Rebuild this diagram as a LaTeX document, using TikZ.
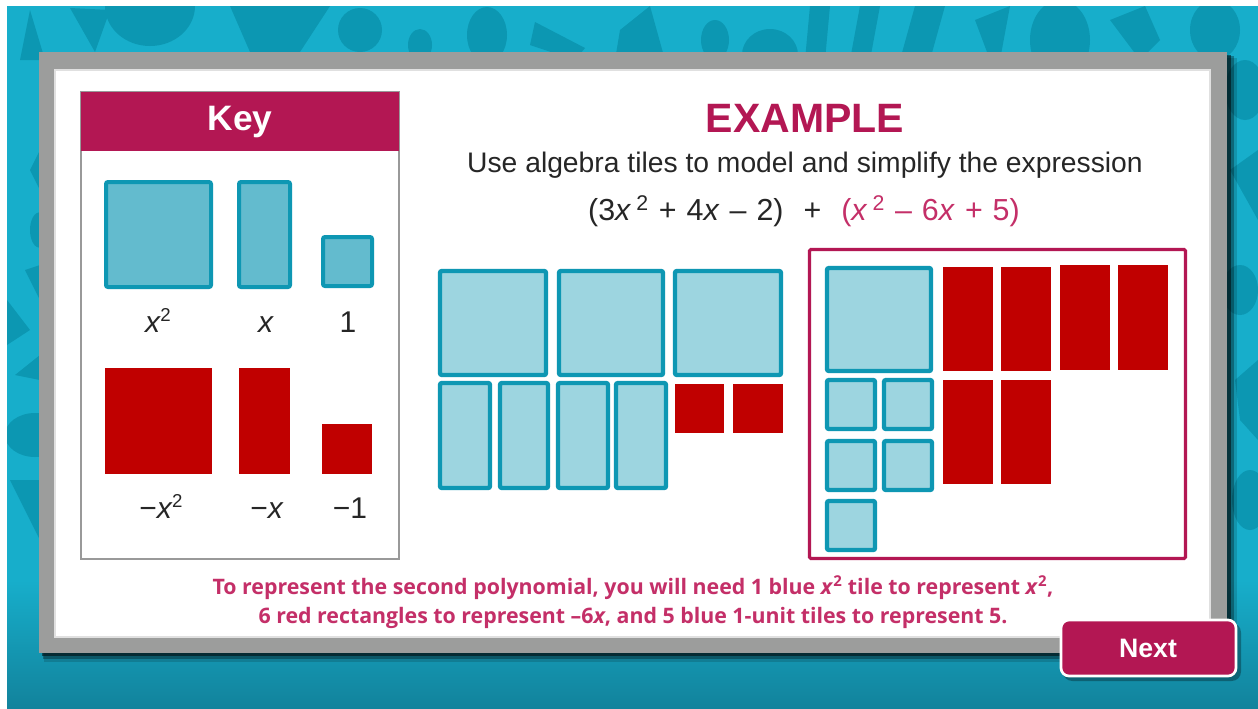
\documentclass[tikz,border=0pt]{standalone}
\usepackage{fontspec}
\setmainfont{Liberation Sans}
\newfontfamily\osans{Open Sans}
\definecolor{teal1}{HTML}{17AECB}
\definecolor{teal2}{HTML}{12839C}
\definecolor{tealdk}{HTML}{0C97B2}
\definecolor{framec}{HTML}{9C9D9C}
\definecolor{mag}{HTML}{B31753}
\definecolor{pinkt}{HTML}{C42F68}
\definecolor{tborder}{HTML}{0E97B3}
\definecolor{kfill}{HTML}{63BBCE}
\definecolor{lfill}{HTML}{9DD5E0}
\definecolor{tred}{HTML}{C00000}
\tikzset{
  keyblue/.style={draw=tborder, fill=kfill, line width=3pt, rounded corners=1.5pt},
  litblue/.style={draw=tborder, fill=lfill, line width=3.3pt, rounded corners=1.5pt},
  redtile/.style={fill=tred},
  lbl/.style={font=\fontsize{22.5}{26}\selectfont, text=black!85, anchor=base},
  pat/.style={fill=tealdk}
}
\newcommand\tileB[5]{\draw[#1] ({#2+2},{#3+2}) rectangle ({#4-2},{#5-2});}
\newcommand\tileR[4]{\fill[redtile] (#1,#2) rectangle (#3,#4);}
\newcommand\sq{\kern-0.5pt\raisebox{0.36em}{\fontsize{14}{15}\selectfont 2}}
\newcommand\gap{\hspace{7.5pt}}
\begin{document}
\begin{tikzpicture}[x=0.75pt,y=-0.75pt]
\useasboundingbox (0,0) rectangle (1258,708);
\fill[white] (0,0) rectangle (1258,708);
\fill[teal1] (7,6) rectangle (1258,708);
\shade[top color=teal1, bottom color=teal2] (7,580) rectangle (1258,708);
% background pattern
\begin{scope}
\clip (7,6) rectangle (1258,600);
\fill[pat] (30,10) -- (45,60) -- (20,60) -- cycle;
\fill[pat] (70,8) -- (110,10) -- (95,52) -- cycle;
\fill[pat] (150,6) ellipse [x radius=45, y radius=40];
\fill[pat] (230,6) -- (330,6) -- (300,52) -- (250,52) -- cycle;
\fill[pat] (360,30) circle [radius=22];
\fill[pat] (420,45) ellipse [x radius=12, y radius=16];
\fill[pat] (487,35) ellipse [x radius=20, y radius=28];
\fill[pat] (535,22) -- (585,48) -- (575,60) -- (530,45) -- cycle;
\fill[pat] (620,30) -- (650,6) -- (665,60) -- (615,60) -- cycle;
\fill[pat] (715,40) ellipse [x radius=14, y radius=20];
\fill[pat] (770,55) ellipse [x radius=28, y radius=26];
\fill[pat] (810,6) -- (830,6) -- (825,60) -- (805,60) -- cycle;
\fill[pat] (860,6) -- (880,6) -- (870,60) -- (850,60) -- cycle;
\fill[pat] (915,6) -- (945,6) -- (930,60) -- (900,60) -- cycle;
\fill[pat] (975,20) -- (1010,6) -- (1000,60) -- (990,60) -- cycle;
\fill[pat] (1060,40) ellipse [x radius=30, y radius=40];
\fill[pat] (1110,20) -- (1145,6) -- (1160,40) -- (1140,60) -- cycle;
\fill[pat] (1215,30) ellipse [x radius=25, y radius=30];
\fill[pat] (1245,90) ellipse [x radius=20, y radius=30];
\fill[pat] (1230,170) -- (1258,150) -- (1258,220) -- cycle;
\fill[pat] (1240,290) ellipse [x radius=18, y radius=25];
\fill[pat] (1235,380) -- (1258,360) -- (1258,440) -- (1240,420) -- cycle;
\fill[pat] (1250,500) ellipse [x radius=18, y radius=30];
\fill[pat] (30,170) -- (40,150) -- (40,190) -- cycle;
\fill[pat] (40,230) ellipse [x radius=10, y radius=18];
\fill[pat] (25,270) -- (40,265) -- (40,300) -- cycle;
\fill[pat] (7,300) -- (30,330) -- (7,345) -- cycle;
\fill[pat] (15,375) -- (40,355) -- (40,380) -- cycle;
\fill[pat] (35,435) ellipse [x radius=30, y radius=22];
\fill[pat] (10,480) -- (40,480) -- (40,540) -- cycle;
\end{scope}
% shadow of frame
\fill[black, opacity=0.15] (44,58) rectangle (1237,662);
\fill[black, opacity=0.3] (43,56) rectangle (1234,659);
\fill[black, opacity=0.5] (42,55) rectangle (1231,656);
% frame
\fill[framec] (39,52) rectangle (1227,653);
\fill[white] (55,70) rectangle (1210,637);
\draw[black!12, line width=0.8pt] (55,70) rectangle (1210,637);
% key panel
\draw[fill=white, draw=black!40, line width=0.8pt] (81,92) rectangle (399,559);
\fill[mag] (81,92) rectangle (399,151);
\node[font=\bfseries\fontsize{26.5}{30}\selectfont, text=white] (keyt) at (240,122) {Key};
% key tiles
\tileB{keyblue}{104}{180}{213}{289}
\tileB{keyblue}{237}{180}{292}{289}
\tileB{keyblue}{321}{235}{374}{288}
\tileR{105}{368}{212}{474}
\tileR{239}{368}{290}{474}
\tileR{322}{424}{372}{474}
\node[lbl] (lx2) at (158,332) {\textit{x}\sq};
\node[lbl] (lx) at (266,332) {\textit{x}};
\node[lbl] (l1) at (348,332) {1};
\node[lbl] (lmx2) at (161,518) {−\textit{x}\sq};
\node[lbl] (lmx) at (267,518) {−\textit{x}};
\node[lbl] (lm1) at (350,518) {−1};
% header texts
\node[font=\bfseries\fontsize{30.75}{34}\selectfont, text=mag] (title) at (805,118) {EXAMPLE};
\node[font=\fontsize{21.2}{25}\selectfont, text=black!85] (instr) at (805,165) {Use algebra tiles to model and simplify the expression};
\node[font=\fontsize{22.8}{26}\selectfont, text=black!85] (expr) at (804,211)
  {(3\textit{x}\,\textsuperscript{2}\gap+\gap4\textit{x}\gap–\gap2)\hspace{15pt}+\hspace{15pt}\textcolor{pinkt}{(\textit{x}\,\textsuperscript{2}\gap–\gap6\textit{x}\gap+\gap5)}};
% first polynomial tiles
\tileB{litblue}{438}{269}{548}{377}
\tileB{litblue}{557}{269}{665}{377}
\tileB{litblue}{673}{269}{783}{377}
\tileB{litblue}{438}{381}{492}{490}
\tileB{litblue}{498}{381}{550}{490}
\tileB{litblue}{556}{381}{610}{490}
\tileB{litblue}{614}{381}{668}{490}
\tileR{675}{384}{724}{433}
\tileR{733}{384}{783}{433}
% second polynomial box
\draw[mag, line width=2.4pt, rounded corners=1pt] (809.5,249.5) rectangle (1185.5,558.5);
\tileB{litblue}{825}{266}{933}{373}
\tileR{943}{267}{993}{371}
\tileR{1001}{267}{1051}{371}
\tileR{1060}{265}{1110}{370}
\tileR{1118}{265}{1168}{370}
\tileR{943}{380}{993}{484}
\tileR{1001}{380}{1051}{484}
\tileB{litblue}{825}{378}{877}{431}
\tileB{litblue}{882}{378}{934}{431}
\tileB{litblue}{825}{439}{877}{492}
\tileB{litblue}{882}{439}{934}{492}
\tileB{litblue}{825}{499}{877}{552}
% bottom explanation
\node[font=\osans\bfseries\fontsize{16}{21.5}\selectfont, text=pinkt, align=center] (expl) at (633,602)
  {To represent the second polynomial, you will need 1 blue \textit{x}\textsuperscript{2} tile to represent \textit{x}\textsuperscript{2},\\
   6 red rectangles to represent –6\textit{x}, and 5 blue 1-unit tiles to represent 5.};
% next button
\fill[black, opacity=0.3, rounded corners=7pt] (1063,623) rectangle (1241,681);
\draw[fill=mag, draw=white, line width=2pt, rounded corners=6pt] (1061,620) rectangle (1236,676);
\node[font=\bfseries\fontsize{20}{24}\selectfont, text=white] (next) at (1148,648) {Next};
\end{tikzpicture}
\end{document}
